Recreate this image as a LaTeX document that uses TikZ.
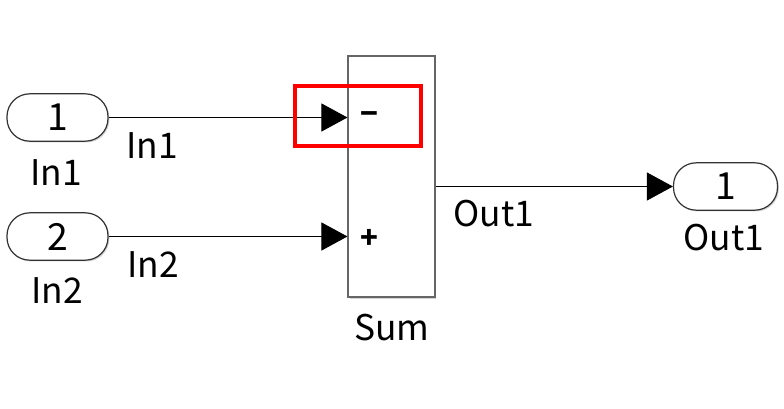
\documentclass[tikz,border=0pt]{standalone}
\usepackage{fontspec}
\setmainfont{Noto Sans CJK JP}
\usetikzlibrary{arrows.meta,shadows}
\begin{document}
\begin{tikzpicture}[x=0.75pt,y=-0.75pt,
  port/.style={draw=black!80,line width=0.9pt,rounded corners=17pt,fill=white,
    drop shadow={shadow xshift=1pt,shadow yshift=-1pt,opacity=0.35},
    minimum height=35.5pt,inner sep=0pt,font=\fontsize{28}{30}\selectfont},
  lbl/.style={inner sep=0pt,font=\fontsize{26.5}{28}\selectfont},
  sign/.style={inner sep=0pt,font=\fontsize{22}{24}\selectfont\bfseries},
  sumbox/.style={draw=black!60,line width=1.1pt,fill=white,
    drop shadow={shadow xshift=1.2pt,shadow yshift=-1.2pt,opacity=0.35},
    minimum width=65pt,minimum height=181pt,inner sep=0pt},
  wire/.style={line width=0.75pt,-{Triangle[length=19.5pt,width=21pt]}},
  hilite/.style={draw=red,line width=2.4pt,minimum width=94.5pt,minimum height=45pt,inner sep=0pt}]
\useasboundingbox (0,0) rectangle (784,409);
% ports
\node[port,minimum width=75.75pt] (in1) at (57.5,117.5) {1};
\node[port,minimum width=75.75pt] (in2) at (57.5,236.5) {2};
\node[port,minimum width=78pt] (out1) at (725.5,186.5) {1};
% sum block
\node[sumbox] (sum) at (391.5,176.5) {};
\node[sign] (minus) at (369,118) {−};
\node[sign] (plus) at (369,239) {+};
% connectors
\draw[wire] (in1.east) -- (in1.east -| sum.west);
\draw[wire] (in2.east) -- (in2.east -| sum.west);
\draw[wire] (out1.west -| sum.east) -- (out1.west);
% labels
\node[lbl] (lin1) at (56,173) {In1};
\node[lbl] (lin2) at (57,291) {In2};
\node[lbl] (win1) at (152,146) {In1};
\node[lbl] (win2) at (153,265) {In2};
\node[lbl] (lsum) at (392,328) {Sum};
\node[lbl] (wout) at (494,214) {Out1};
\node[lbl] (lout) at (724,238) {Out1};
% highlight
\node[hilite] (hl) at (358,116) {};
\end{tikzpicture}
\end{document}
